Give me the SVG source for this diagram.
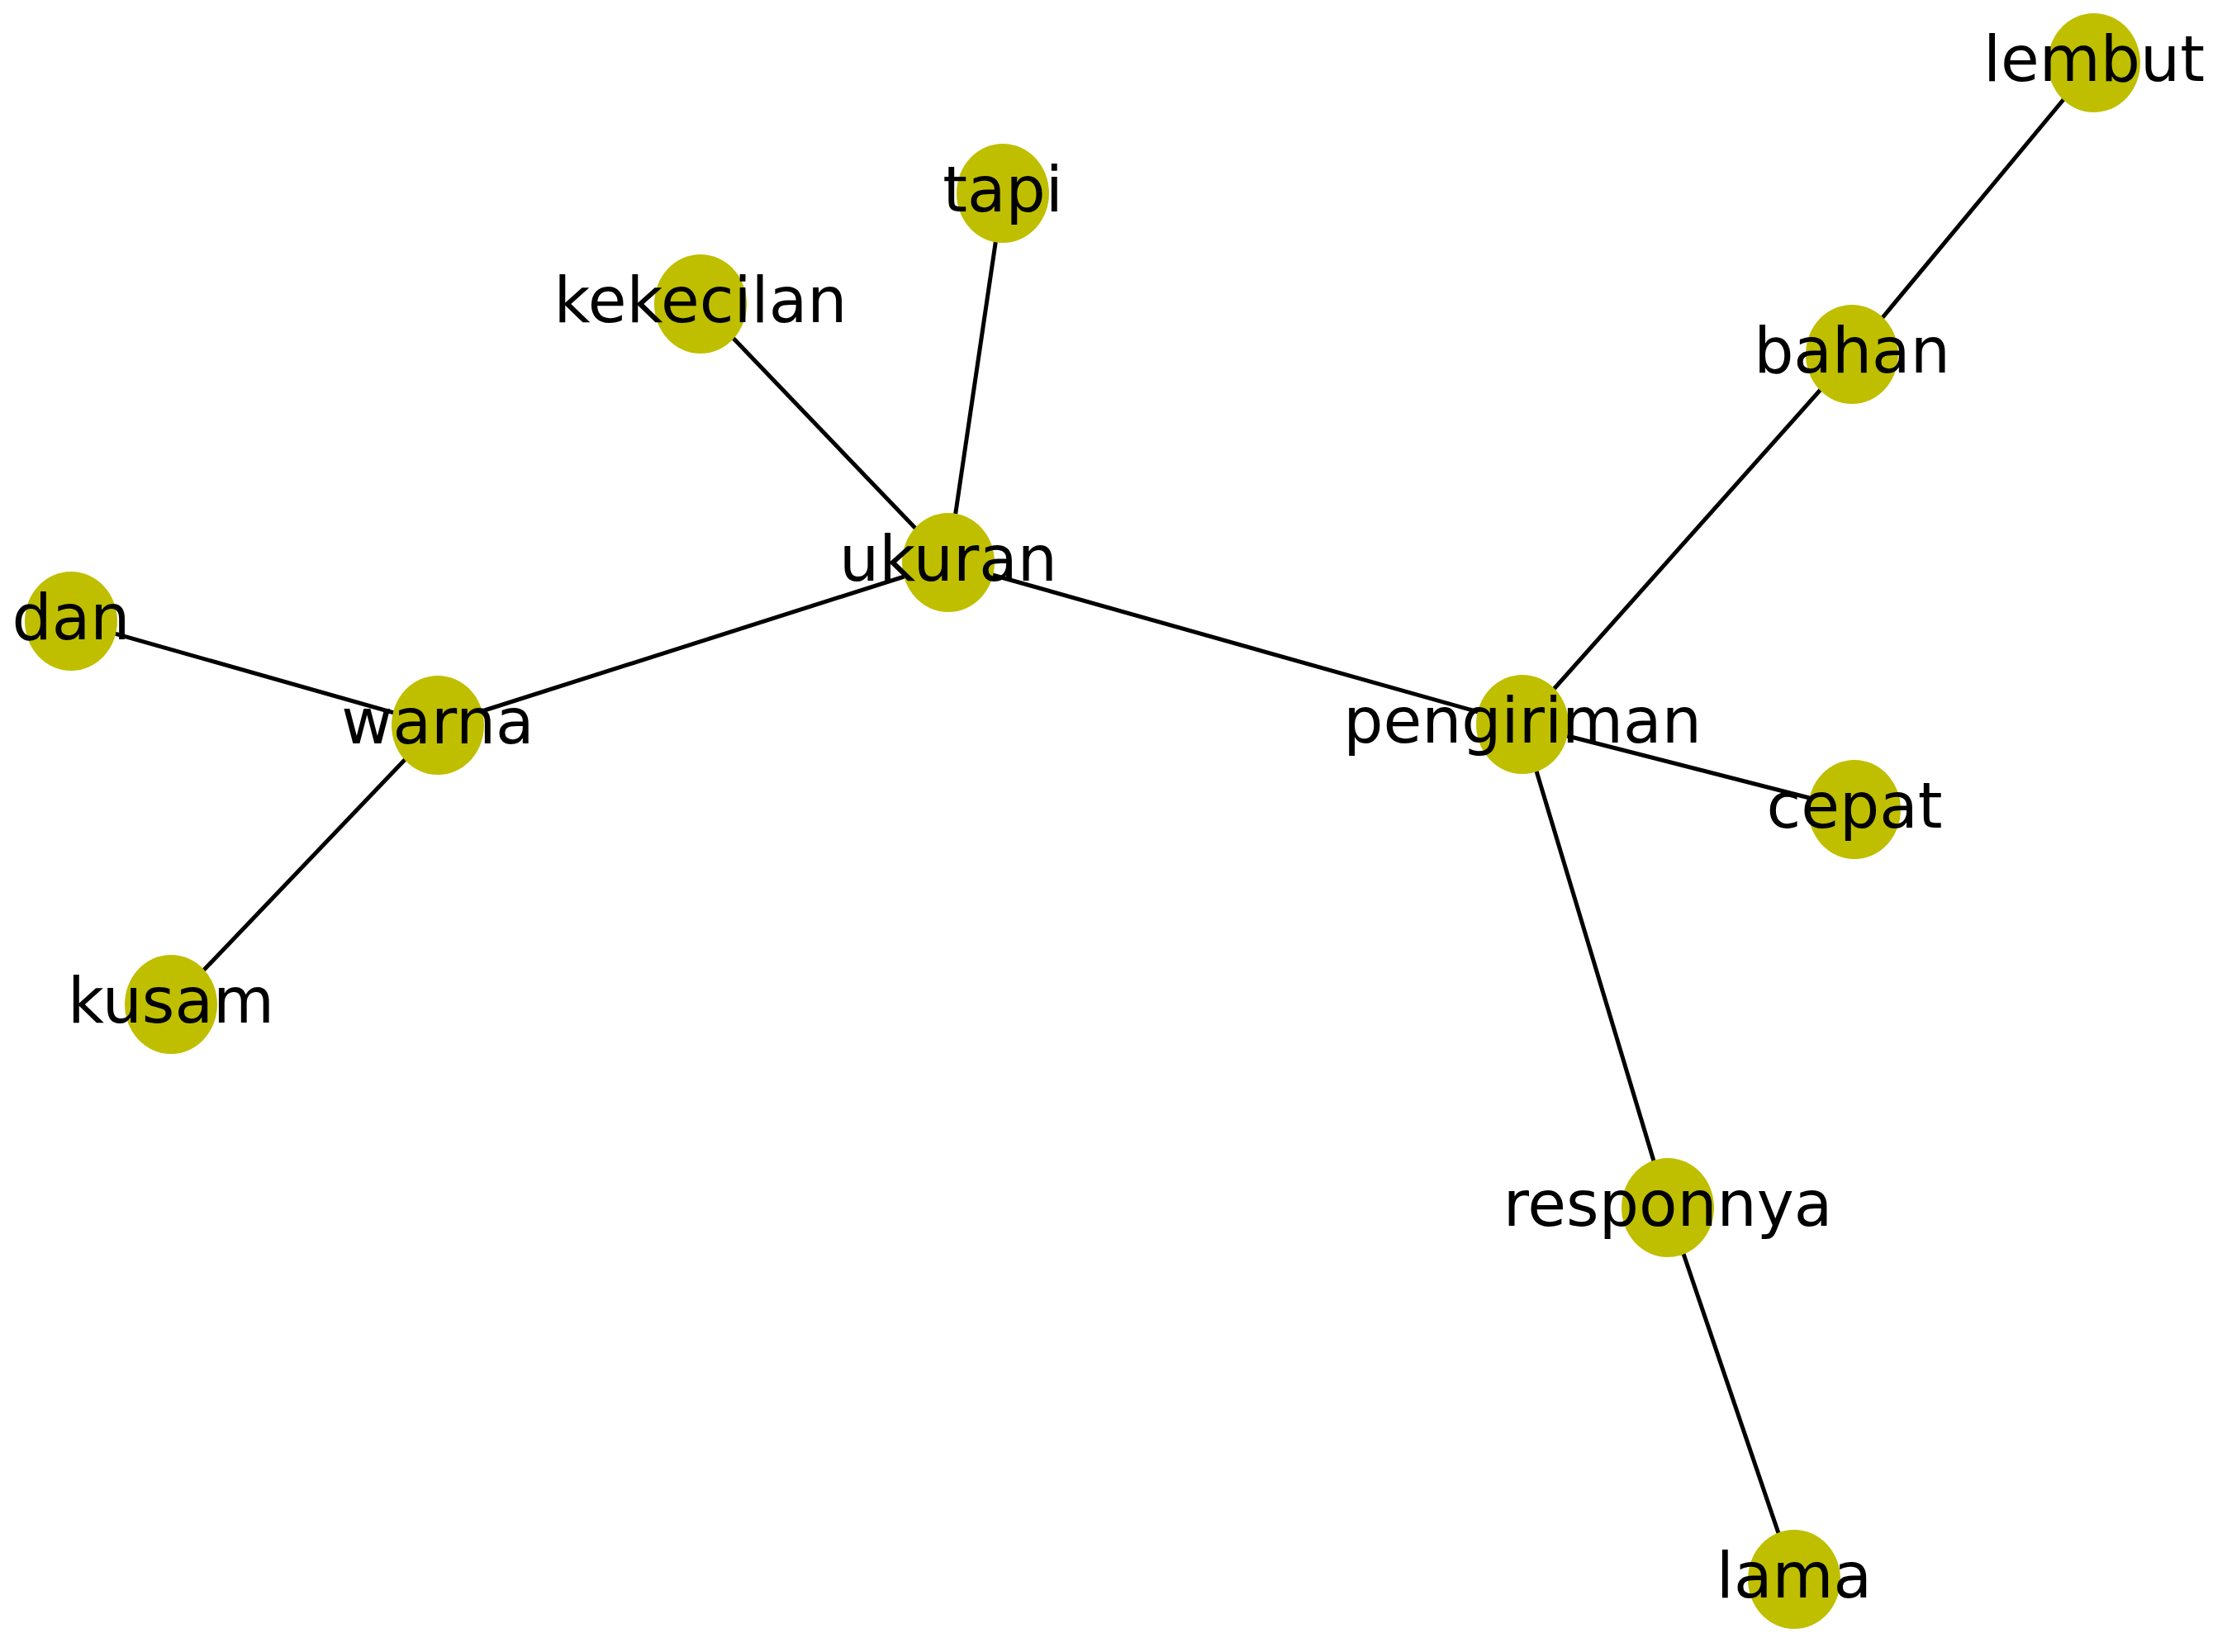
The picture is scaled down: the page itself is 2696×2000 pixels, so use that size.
<svg xmlns="http://www.w3.org/2000/svg" width="2696" height="2000" viewBox="0 0 2696 2000">
<style>
.e{stroke:#000;stroke-width:5;fill:none}
.n ellipse{fill:#bfbf00}
.n text{font-family:"DejaVu Sans",sans-serif;font-size:76px;fill:#000;text-anchor:middle}
</style>
<rect width="2696" height="2000" fill="#fff"/>
<g id="edges">
<line class="e" x1="1148" y1="681" x2="1214" y2="234"/>
<line class="e" x1="1148" y1="681" x2="848" y2="368"/>
<line class="e" x1="1148" y1="681" x2="530" y2="878"/>
<line class="e" x1="1148" y1="681" x2="1843" y2="877"/>
<line class="e" x1="530" y1="878" x2="86" y2="752"/>
<line class="e" x1="530" y1="878" x2="207" y2="1216"/>
<line class="e" x1="1843" y1="877" x2="2242" y2="429"/>
<line class="e" x1="2242" y1="429" x2="2535" y2="76"/>
<line class="e" x1="1843" y1="877" x2="2245" y2="980"/>
<line class="e" x1="1843" y1="877" x2="2019" y2="1462"/>
<line class="e" x1="2019" y1="1462" x2="2172" y2="1912"/>
</g>
<g id="n-ukuran" class="n"><ellipse cx="1148" cy="681" rx="56" ry="60"/><text x="1148" y="703">ukuran</text></g>
<g id="n-tapi" class="n"><ellipse cx="1214" cy="234" rx="56" ry="60"/><text x="1214" y="256">tapi</text></g>
<g id="n-kekecilan" class="n"><ellipse cx="848" cy="368" rx="56" ry="60"/><text x="848" y="390">kekecilan</text></g>
<g id="n-warna" class="n"><ellipse cx="530" cy="878" rx="56" ry="60"/><text x="530" y="900">warna</text></g>
<g id="n-dan" class="n"><ellipse cx="86" cy="752" rx="56" ry="60"/><text x="86" y="774">dan</text></g>
<g id="n-kusam" class="n"><ellipse cx="207" cy="1216" rx="56" ry="60"/><text x="207" y="1238">kusam</text></g>
<g id="n-pengiriman" class="n"><ellipse cx="1843" cy="877" rx="56" ry="60"/><text x="1843" y="899">pengiriman</text></g>
<g id="n-bahan" class="n"><ellipse cx="2242" cy="429" rx="56" ry="60"/><text x="2242" y="451">bahan</text></g>
<g id="n-lembut" class="n"><ellipse cx="2535" cy="76" rx="56" ry="60"/><text x="2535" y="98">lembut</text></g>
<g id="n-cepat" class="n"><ellipse cx="2245" cy="980" rx="56" ry="60"/><text x="2245" y="1002">cepat</text></g>
<g id="n-responnya" class="n"><ellipse cx="2019" cy="1462" rx="56" ry="60"/><text x="2019" y="1484">responnya</text></g>
<g id="n-lama" class="n"><ellipse cx="2172" cy="1912" rx="56" ry="60"/><text x="2172" y="1934">lama</text></g>
</svg>
